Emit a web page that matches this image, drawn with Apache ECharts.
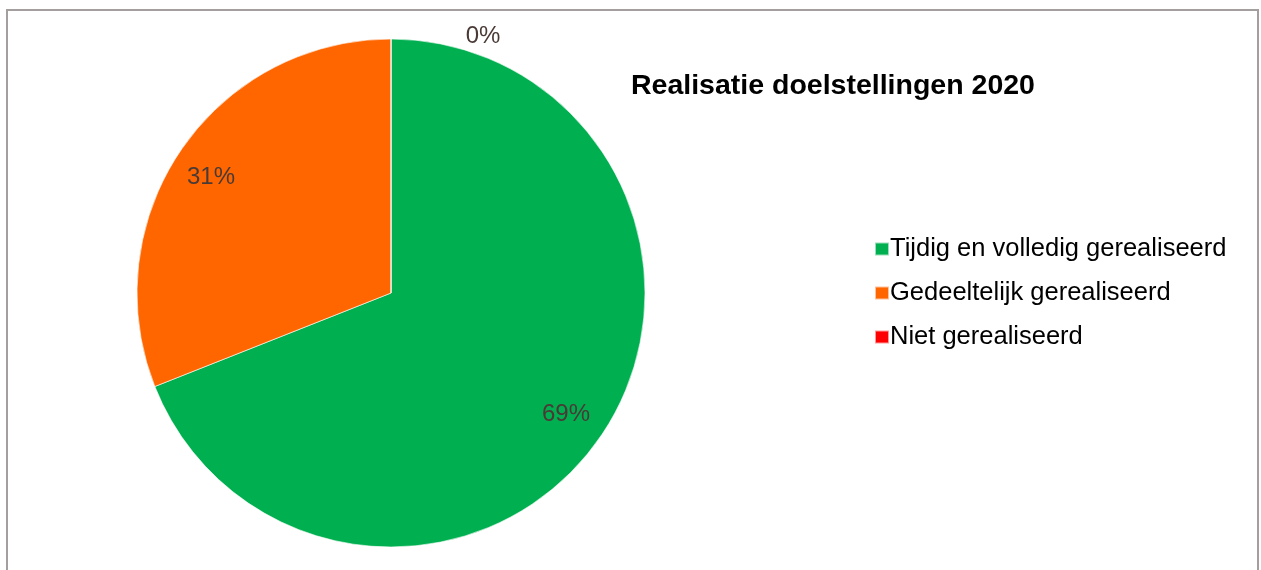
<!DOCTYPE html>
<html>
<head>
<meta charset="utf-8">
<script src="https://cdn.jsdelivr.net/npm/echarts@6/dist/echarts.min.js"></script>
<style>
  html, body { margin: 0; padding: 0; background: #fff; }
  #chart { width: 1261px; height: 570px; }
</style>
</head>
<body>
<div id="chart"></div>
<script>
const categories = ['Tijdig en volledig gerealiseerd', 'Gedeeltelijk gerealiseerd', 'Niet gerealiseerd']
const percentages = [69, 31, 0]
const colors = ['#00B050', '#FF6600', '#FF0000']

const font = '"Liberation Sans", Arial, sans-serif'
const labelColor = '#4a3a36'

const chart = echarts.init(document.getElementById('chart'))

// the 0% slice sits at 12 o'clock, Excel pushed its label up and right
const labelOffsets = [[-2, 1], [-3, 5], [92, -43]]

chart.setOption({
  animation: false,
  title: {
    text: 'Realisatie doelstellingen 2020',
    left: 626,
    top: 67,
    textStyle: { fontFamily: font, fontSize: 28.5, fontWeight: 'bold', color: '#000' }
  },
  legend: {
    orient: 'vertical',
    left: 869,
    top: 231,
    itemWidth: 14,
    itemHeight: 13,
    itemGap: 18,
    icon: 'rect',
    data: categories,
    textStyle: { fontFamily: font, fontSize: 25.5, color: '#000', padding: [0, 0, 0, -4] }
  },
  graphic: [{
    type: 'rect',
    shape: { x: 7, y: 10, width: 1251, height: 600 },
    style: { fill: 'none', stroke: '#a59e9e', lineWidth: 2 },
    silent: true
  }],
  series: [
    {
      type: 'pie',
      center: [391, 293],
      radius: 254,
      startAngle: 90,
      clockwise: true,
      label: { show: false },
      labelLine: { show: false },
      itemStyle: { borderColor: 'rgba(255,255,255,0.6)', borderWidth: 1 },
      data: categories.map((name, i) => ({
        name, value: percentages[i], itemStyle: { color: colors[i] }
      }))
    },
    {
      // transparent ring only used to put the labels at ~83% of the radius
      type: 'pie',
      center: [391, 293],
      radius: [168, 254],
      startAngle: 90,
      clockwise: true,
      silent: true,
      legendHoverLink: false,
      itemStyle: { color: 'transparent' },
      labelLine: { show: false },
      label: {
        show: true,
        position: 'inside',
        formatter: '{c}%',
        fontFamily: font,
        fontSize: 24,
        color: labelColor
      },
      data: categories.map((name, i) => ({
        name, value: percentages[i], label: { offset: labelOffsets[i] }
      }))
    }
  ]
})
</script>
</body>
</html>
